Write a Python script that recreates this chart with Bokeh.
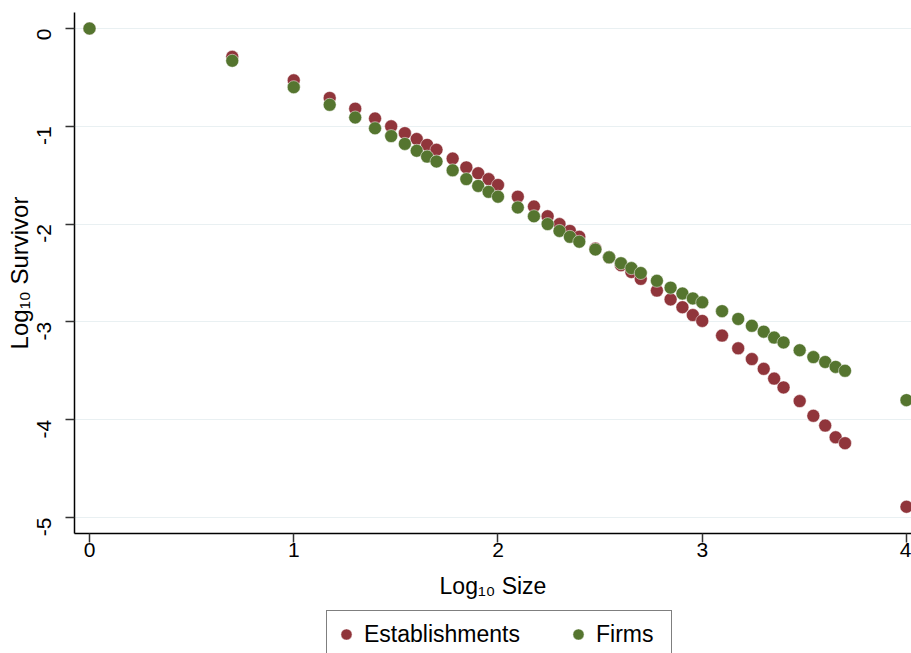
import math
from bokeh.plotting import figure
from bokeh.layouts import column
from bokeh.models import (ColumnDataSource, FixedTicker, Legend, LegendItem, Range1d)
from bokeh.embed import file_html
from bokeh.resources import INLINE

# ---- data (log10 size, log10 survivor) ----
log_size = [0.000, 0.699, 1.000, 1.176, 1.301, 1.398, 1.477, 1.544, 1.602, 1.653,
            1.699, 1.778, 1.845, 1.903, 1.954, 2.000, 2.097, 2.176, 2.243, 2.301,
            2.352, 2.398, 2.477, 2.544, 2.602, 2.653, 2.699, 2.778, 2.845, 2.903,
            2.954, 3.000, 3.097, 3.176, 3.243, 3.301, 3.352, 3.398, 3.477, 3.544,
            3.602, 3.653, 3.699, 4.000]
establishments = [0.00, -0.29, -0.53, -0.71, -0.82, -0.92, -1.00, -1.07, -1.13, -1.19,
                  -1.24, -1.33, -1.42, -1.48, -1.54, -1.60, -1.72, -1.82, -1.92, -2.00,
                  -2.07, -2.13, -2.25, -2.34, -2.42, -2.49, -2.56, -2.68, -2.77, -2.85,
                  -2.93, -2.99, -3.14, -3.27, -3.38, -3.48, -3.58, -3.67, -3.81, -3.96,
                  -4.06, -4.18, -4.24, -4.89]
firms = [0.00, -0.33, -0.60, -0.78, -0.91, -1.02, -1.10, -1.18, -1.25, -1.31,
         -1.36, -1.45, -1.54, -1.61, -1.67, -1.72, -1.83, -1.92, -2.00, -2.07,
         -2.13, -2.18, -2.26, -2.34, -2.40, -2.45, -2.50, -2.58, -2.65, -2.71,
         -2.76, -2.80, -2.89, -2.97, -3.04, -3.10, -3.16, -3.21, -3.29, -3.36,
         -3.41, -3.46, -3.50, -3.80]
x_ticks = [0, 1, 2, 3, 4]
y_ticks = [0, -1, -2, -3, -4, -5]
y_tick_labels = ["0", "-1", "-2", "-3", "-4", "-5"]
x_title = "Log\u2081\u2080 Size"
y_title = "Log\u2081\u2080 Survivor"
series_names = ["Establishments", "Firms"]
series_colors = ["#90353B", "#55752F"]

FONT = "Liberation Sans"
MARKER = dict(size=13, line_color="white", line_width=0.5)

# ---------------- main plot ----------------
p = figure(width=911, height=605, output_backend="svg", toolbar_location=None,
           x_range=Range1d(-0.0734, 4.0245), y_range=Range1d(-5.1636, 0.1636),
           min_border_left=74, min_border_right=0, min_border_top=12,
           min_border_bottom=72)
p.title = None
p.outline_line_color = None
p.background_fill_color = "white"
p.border_fill_color = "white"

src = ColumnDataSource(dict(x=log_size, est=establishments, firms=firms))
r1 = p.scatter("x", "est", source=src, fill_color=series_colors[0], **MARKER)
r2 = p.scatter("x", "firms", source=src, fill_color=series_colors[1], **MARKER)

for ax in (p.xaxis[0], p.yaxis[0]):
    ax.axis_line_color = "black"
    ax.axis_line_width = 1.5
    ax.major_tick_line_color = "#333333"
    ax.major_tick_line_width = 1.5
    ax.major_tick_out = 9
    ax.major_tick_in = 0
    ax.minor_tick_line_color = None
    ax.major_label_text_font = FONT
    ax.major_label_text_font_size = "21px"
    ax.major_label_text_color = "black"
    ax.axis_label_text_font = FONT
    ax.axis_label_text_font_style = "normal"
    ax.axis_label_text_color = "black"
p.xaxis.ticker = FixedTicker(ticks=x_ticks)
p.yaxis.ticker = FixedTicker(ticks=y_ticks)
p.yaxis.major_label_overrides = dict(zip(y_ticks, y_tick_labels))
p.xaxis.major_label_standoff = 0
p.yaxis.major_label_standoff = 21
p.yaxis.major_label_orientation = math.pi / 2

p.xaxis.axis_label = x_title
p.xaxis.axis_label_text_font_size = "23px"
p.xaxis.axis_label_standoff = 13
p.yaxis.axis_label = y_title
p.yaxis.axis_label_text_font_size = "24px"
p.yaxis.axis_label_standoff = -5

p.xgrid.grid_line_color = None
p.ygrid.ticker = FixedTicker(ticks=y_ticks)
p.ygrid.grid_line_color = "#E9F0F2"
p.ygrid.grid_line_width = 1.2

# ---------------- legend strip ----------------
lg = figure(width=911, height=48, output_backend="svg", toolbar_location=None,
            x_range=Range1d(0, 1), y_range=Range1d(0, 1),
            min_border_left=0, min_border_right=0, min_border_top=0,
            min_border_bottom=0)
lg.title = None
lg.axis.visible = False
lg.grid.visible = False
lg.outline_line_color = None
lg.border_fill_color = "white"
lg.background_fill_color = "white"
nan = float("nan")
d1 = lg.scatter(x=[nan], y=[nan], fill_color=series_colors[0], **MARKER)
d2 = lg.scatter(x=[nan], y=[nan], fill_color=series_colors[1], **MARKER)

legend = Legend(items=[LegendItem(label=series_names[0], renderers=[d1]),
                       LegendItem(label=series_names[1], renderers=[d2])],
                orientation="horizontal", location=(252, -5),
                label_text_font=FONT, label_text_font_size="23px",
                label_text_color="black", glyph_width=28, glyph_height=28,
                label_standoff=4, spacing=44, padding=5, label_width=70,
                label_height=36,
                border_line_color="black", border_line_width=1,
                background_fill_color="white", background_fill_alpha=1.0,
                margin=0)
lg.add_layout(legend, "center")

layout = column(p, lg, spacing=0)
open("out.html", "w").write(file_html(layout, INLINE))
